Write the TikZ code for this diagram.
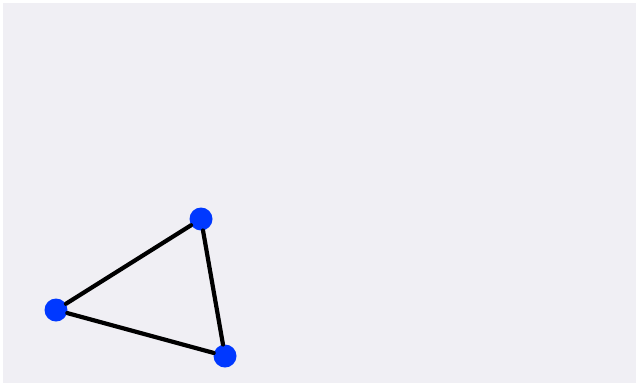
\documentclass[tikz,border=0pt]{standalone}
\definecolor{paper}{RGB}{240,239,244}
\definecolor{dotblue}{RGB}{0,56,255}
\tikzset{
  vertex/.style={circle,fill=dotblue,inner sep=0pt,minimum size=23pt},
  edge/.style={line width=4.2pt,black}
}
\begin{document}
\begin{tikzpicture}[x=1pt,y=-1pt,line cap=round,line join=round]
\fill[white] (0,0) rectangle (639,386);
\fill[paper] (3,3) rectangle (636,383);

\node[vertex] (top) at (201,219) {};
\node[vertex] (left) at (56,310) {};
\node[vertex] (bottom) at (225,356) {};

\draw[edge] (top) -- (left);
\draw[edge] (left) -- (bottom);
\draw[edge] (bottom) -- (top);
\end{tikzpicture}
\end{document}
